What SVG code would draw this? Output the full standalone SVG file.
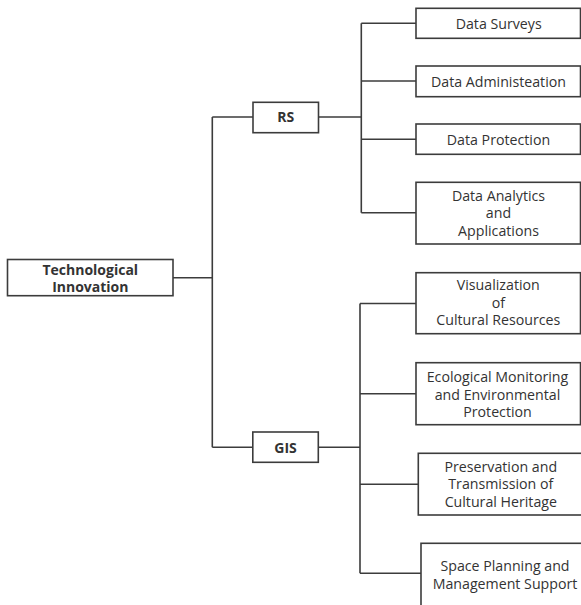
<svg xmlns="http://www.w3.org/2000/svg" width="581" height="605" viewBox="0 0 581 605">
<style>
.box{fill:#fff;stroke:#3c3c3c;stroke-width:1.6}
.con{fill:none;stroke:#3c3c3c;stroke-width:1.6}
text{font-family:"Open Sans","Noto Sans",sans-serif;font-size:14.2px;fill:#333;text-anchor:middle}
.b{font-weight:bold;font-size:14px}
</style>
<rect width="581" height="605" fill="#fff"/>
<g id="connectors">
<path class="con" d="M173 277.7H212.3M212.3 117V447.3M212.3 117H253M212.3 447.3H253"/>
<path class="con" d="M318.5 117H361.3M361.3 23.3V212.8M361.3 23.3H416M361.3 81H416M361.3 139.3H416M361.3 212.8H416"/>
<path class="con" d="M318.3 447.3H360M360 303.5V573.3M360 303.5H416M360 393.7H416M360 484.3H418.3M360 573.3H421"/>
</g>
<g id="root"><rect class="box" x="7.5" y="259.5" width="165.5" height="36.2"/><text class="b" x="90.3" y="275">Technological</text><text class="b" x="90.3" y="292.2">Innovation</text></g>
<g id="rs"><rect class="box" x="253" y="102.3" width="65.5" height="30.4"/><text class="b" x="285.7" y="122.3">RS</text></g>
<g id="gis"><rect class="box" x="252.8" y="432" width="65.5" height="30.3"/><text class="b" x="285.5" y="452.5">GIS</text></g>
<g id="surveys"><rect class="box" x="416" y="8.3" width="164.5" height="30"/><text x="498.7" y="29">Data Surveys</text></g>
<g id="admin"><rect class="box" x="416" y="66" width="164.5" height="30.7"/><text x="498.5" y="86.6">Data Administeation</text></g>
<g id="protection"><rect class="box" x="416" y="124" width="164.5" height="30.3"/><text x="498.5" y="144.8">Data Protection</text></g>
<g id="analytics"><rect class="box" x="416" y="182.3" width="164.5" height="61.7"/><text x="498.5" y="200.7">Data Analytics</text><text x="498.5" y="218.2">and</text><text x="498.5" y="235.8">Applications</text></g>
<g id="visual"><rect class="box" x="416" y="272.7" width="164.5" height="61"/><text x="498.3" y="290.3">Visualization</text><text x="498.3" y="307.7">of</text><text x="498.3" y="325.2">Cultural Resources</text></g>
<g id="eco"><rect class="box" x="416" y="362.7" width="164.5" height="62"/><text x="497.5" y="382">Ecological Monitoring</text><text x="497.5" y="399.5">and Environmental</text><text x="497.5" y="417">Protection</text></g>
<g id="preserve"><rect class="box" x="418.3" y="453.3" width="165" height="61.7"/><text x="500.8" y="472">Preservation and</text><text x="500.8" y="489.3">Transmission of</text><text x="500.8" y="506.7">Cultural Heritage</text></g>
<g id="space"><rect class="box" x="421" y="543.3" width="168" height="63"/><text x="505" y="571">Space Planning and</text><text x="505" y="588.6">Management Support</text></g>
</svg>
